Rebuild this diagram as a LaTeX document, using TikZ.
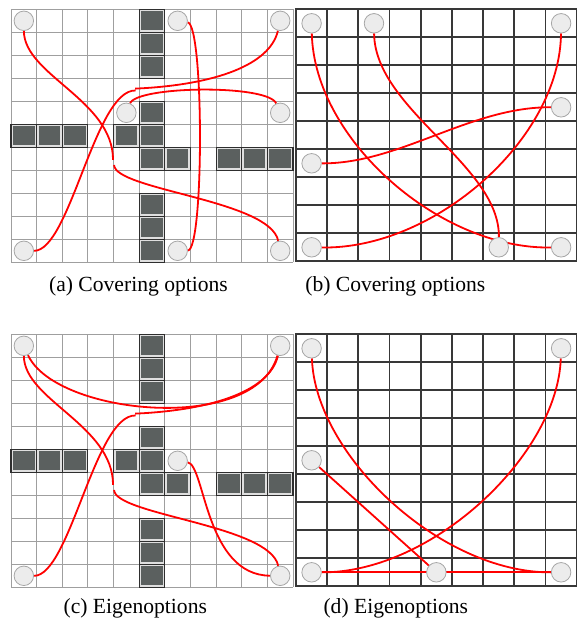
\documentclass[tikz,border=0pt]{standalone}
\usepackage{fontspec}
\setmainfont{Liberation Serif}

\definecolor{wallgray}{HTML}{5B605F}
\pgfdeclarelayer{cells}
\pgfdeclarelayer{paths}
\pgfsetlayers{cells,paths,main}

\begin{document}
\begin{tikzpicture}[x=1pt,y=-1pt,
	room node/.style={circle,draw=gray!70,fill=gray!15,line width=0.8pt,
		minimum size=19.5pt,inner sep=0pt},
	opt path/.style={red,line width=1.8pt},
	light grid/.style={gray!75,line width=1pt},
	dark grid/.style={black!78,line width=1.8pt,line cap=rect},
	wall/.style={fill=wallgray,draw=gray!25,line width=4pt},
	wall rim/.style={draw=black!82,line width=1.1pt},
	caption/.style={font=\fontsize{21.6}{26}\selectfont,inner sep=0pt}]
	
	\useasboundingbox (0,0) rectangle (577,621);
	
	% grids: four rooms on the left, open room on the right
	\begin{pgfonlayer}{cells}
	\foreach \oy in {9.3,334.3} {
		\begin{scope}[shift={(11,\oy)},x=25.64pt,y=-23pt]
			\foreach \i in {0,...,11} {
				\draw[light grid] (\i,0) -- (\i,11);
				\draw[light grid] (0,\i) -- (11,\i);
			}
			\foreach \c/\r in {5/0,5/1,5/2,5/4,5/5,5/6,5/8,5/9,5/10,
				0/5,1/5,2/5,4/5,6/6,8/6,9/6,10/6} {
				\begin{scope}
					\clip (\c,\r) rectangle ++(1,1);
					\filldraw[wall] (\c,\r) rectangle ++(1,1);
				\end{scope}
				\draw[wall rim] (\c,\r) rectangle ++(1,1);
			}
		\end{scope}
		\begin{scope}[shift={(296,\oy)},x=31.19pt,y=-28pt]
			\foreach \i in {0,...,9} {
				\draw[dark grid] (\i,0) -- (\i,9);
				\draw[dark grid] (0,\i) -- (9,\i);
			}
		\end{scope}
	}
	\end{pgfonlayer}
	
	% (a)
	\begin{scope}[shift={(11,9.3)},x=25.64pt,y=-23pt]
		\node[room node] (a1) at (0.5,0.5) {};
		\node[room node] (a2) at (6.5,0.5) {};
		\node[room node] (a3) at (10.5,0.5) {};
		\node[room node] (a4) at (4.5,4.5) {};
		\node[room node] (a5) at (10.5,4.5) {};
		\node[room node] (a6) at (0.5,10.5) {};
		\node[room node] (a7) at (6.5,10.5) {};
		\node[room node] (a8) at (10.5,10.5) {};
		\coordinate (ak1) at (3.98,6.55);
		\coordinate (ak2) at (4.02,6.77);
		\coordinate (ak3) at (4.84,3.45);
		\coordinate (ak4) at (4.86,3.53);
		\begin{pgfonlayer}{paths}
		\draw[opt path] (a1) .. controls (0.51,2.86) and (3.98,3.94) .. (ak1);
		\draw[opt path] (ak2) .. controls (4.06,7.86) and (10.1,8.29) .. (a8);
		\draw[opt path] (a3) .. controls (10.1,2.42) and (7.96,3.29) .. (ak3);
		\draw[opt path] (ak4) .. controls (3.28,3.47) and (2.30,10.51) .. (a6);
		\draw[opt path] (a4) .. controls (4.91,3.33) and (10.02,3.25) .. (a5);
		\draw[opt path] (a2) .. controls (7.53,0.68) and (7.53,10.47) .. (a7);
		\end{pgfonlayer}
	\end{scope}
	
	% (b)
	\begin{scope}[shift={(296,9.3)},x=31.19pt,y=-28pt]
		\node[room node] (b1) at (0.5,0.5) {};
		\node[room node] (b2) at (2.5,0.5) {};
		\node[room node] (b3) at (8.5,0.5) {};
		\node[room node] (b4) at (8.5,3.5) {};
		\node[room node] (b5) at (0.5,5.5) {};
		\node[room node] (b6) at (0.5,8.5) {};
		\node[room node] (b7) at (6.5,8.5) {};
		\node[room node] (b8) at (8.5,8.5) {};
		\begin{pgfonlayer}{paths}
		\draw[opt path] (b1) .. controls (0.58,4.66) and (4.62,8.58) .. (b8);
		\draw[opt path] (b2) .. controls (2.53,3.59) and (6.54,5.55) .. (b7);
		\draw[opt path] (b3) .. controls (8.46,4.66) and (4.42,8.58) .. (b6);
		\draw[opt path] (b4) .. controls (5.58,3.48) and (3.33,5.52) .. (b5);
		\end{pgfonlayer}
	\end{scope}
	
	% (c)
	\begin{scope}[shift={(11,334.3)},x=25.64pt,y=-23pt]
		\node[room node] (c1) at (0.5,0.5) {};
		\node[room node] (c2) at (10.5,0.5) {};
		\node[room node] (c3) at (6.5,5.5) {};
		\node[room node] (c4) at (0.5,10.5) {};
		\node[room node] (c5) at (10.5,10.5) {};
		\coordinate (ck1) at (3.98,6.55);
		\coordinate (ck2) at (4.02,6.77);
		\coordinate (ck3) at (4.84,3.45);
		\coordinate (ck4) at (4.86,3.53);
		\begin{pgfonlayer}{paths}
		\draw[opt path] (c1) .. controls (0.51,2.86) and (3.98,3.94) .. (ck1);
		\draw[opt path] (ck2) .. controls (4.06,7.86) and (10.1,8.29) .. (c5);
		\draw[opt path] (c2) .. controls (10.1,2.42) and (7.96,3.29) .. (ck3);
		\draw[opt path] (ck4) .. controls (3.28,3.47) and (2.30,10.51) .. (c4);
		\draw[opt path] (c1) .. controls (1.72,3.51) and (9.52,4.38) .. (c2);
		\draw[opt path] (c3) .. controls (7.57,5.68) and (7.57,10.47) .. (c5);
		\end{pgfonlayer}
	\end{scope}
	
	% (d)
	\begin{scope}[shift={(296,334.3)},x=31.19pt,y=-28pt]
		\node[room node] (d1) at (0.5,0.5) {};
		\node[room node] (d2) at (8.5,0.5) {};
		\node[room node] (d3) at (0.5,4.5) {};
		\node[room node] (d4) at (0.5,8.5) {};
		\node[room node] (d5) at (4.5,8.5) {};
		\node[room node] (d6) at (8.5,8.5) {};
		\begin{pgfonlayer}{paths}
		\draw[opt path] (d1) .. controls (0.61,4.3) and (4.62,8.52) .. (d6);
		\draw[opt path] (d2) .. controls (8.39,4.3) and (4.38,8.52) .. (d4);
		\draw[opt path] (d3) -- (d5);
		\draw[opt path] (d4) -- (d6);
		\end{pgfonlayer}
	\end{scope}
	
	\node[caption] (capa) at (138.5,286) {(a) Covering options};
	\node[caption] (capb) at (395.3,286) {(b) Covering options};
	\node[caption] (capc) at (135.3,608.5) {(c) Eigenoptions};
	\node[caption] (capd) at (395.8,608.5) {(d) Eigenoptions};
\end{tikzpicture}
\end{document}
